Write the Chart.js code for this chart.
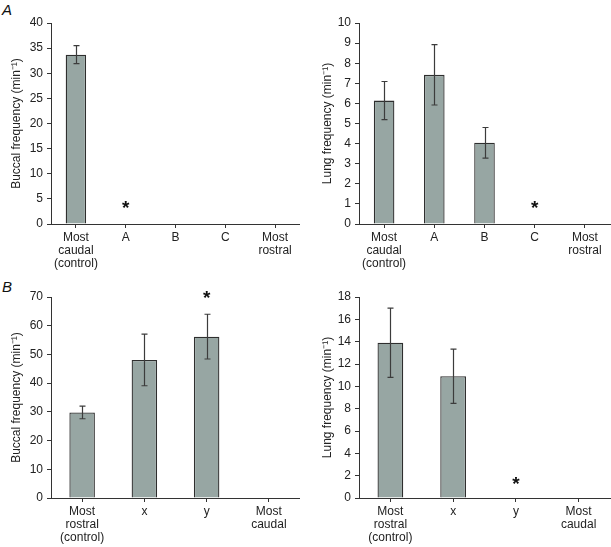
<!DOCTYPE html>
<html>
<head>
<meta charset="utf-8">
<script src="https://cdn.jsdelivr.net/npm/chart.js@4/dist/chart.umd.min.js"></script>
<style>
  body { margin: 0; background: #fff; width: 611px; height: 547px; position: relative; overflow: hidden; font-family: "Liberation Sans", Arial, sans-serif; }
  canvas { position: absolute; }
  .tag { position: absolute; font-style: italic; font-size: 15px; color: #111; line-height: 15px; }
</style>
</head>
<body>
<div class="tag" style="left:2px;top:2px">A</div>
<div class="tag" style="left:2px;top:279px">B</div>
<canvas id="buccalA" width="300" height="270" style="left:0;top:0"></canvas>
<canvas id="lungA" width="311" height="270" style="left:300px;top:0"></canvas>
<canvas id="buccalB" width="300" height="277" style="left:0;top:270px"></canvas>
<canvas id="lungB" width="311" height="277" style="left:300px;top:270px"></canvas>
<script>
// categories
const catsA = [['Most', 'caudal', '(control)'], 'A', 'B', 'C', ['Most', 'rostral']];
const catsB = [['Most', 'rostral', '(control)'], 'x', 'y', ['Most', 'caudal']];

// means and error (+/-) per category, null = no bar
const buccalA = [33.7, null, null, null, null];
const buccalAErr = [1.8, null, null, null, null];
const lungA = [6.14, 7.42, 4.04, null, null];
const lungAErr = [0.95, 1.5, 0.76, null, null];
const buccalB = [29.8, 48.1, 56.2, null];
const buccalBErr = [2.2, 9.0, 7.8, null];
const lungB = [13.9, 10.9, null, null];
const lungBErr = [3.1, 2.43, null, null];

// where the significance asterisks sit (value units)
const starBuccalA = [null, 3.8, null, null, null];
const starLungA = [null, null, null, 0.95, null];
const starBuccalB = [null, null, 70.7, null];
const starLungB = [null, null, 1.6, null];

Chart.defaults.font.family = '"Liberation Sans", Arial, sans-serif';
Chart.defaults.color = '#222';

const errBarPlugin = {
    id: 'errBars',
    afterDatasetsDraw(chart) {
        const opts = chart.options.plugins.errBars;
        const ctx = chart.ctx;
        const yScale = chart.scales.y;
        const xScale = chart.scales.x;
        const vals = chart.data.datasets[0].data;
        ctx.save();
        ctx.strokeStyle = '#3c3c3c';
        ctx.lineWidth = 1.2;
        opts.errors.forEach((e, i) => {
            if (e == null || vals[i] == null) return;
            const x = Math.round(xScale.getPixelForValue(i)) + 0.5;
            const top = yScale.getPixelForValue(vals[i] + e);
            const bot = yScale.getPixelForValue(vals[i] - e);
            ctx.beginPath();
            ctx.moveTo(x, top); ctx.lineTo(x, bot);
            ctx.moveTo(x - 3, top); ctx.lineTo(x + 3, top);
            ctx.moveTo(x - 3, bot); ctx.lineTo(x + 3, bot);
            ctx.stroke();
        });
        ctx.fillStyle = '#111';
        ctx.font = 'bold 19px "Liberation Sans", Arial, sans-serif';
        ctx.textAlign = 'center';
        ctx.textBaseline = 'alphabetic';
        opts.stars.forEach((s, i) => {
            if (s == null) return;
            const m = ctx.measureText('*');
            const x = xScale.getPixelForValue(i);
            const y = yScale.getPixelForValue(s);
            const off = (m.actualBoundingBoxAscent - m.actualBoundingBoxDescent) / 2;
            ctx.fillText('*', x, y + off);
        });
        ctx.restore();
    }
};

const makeChart = (id, cats, vals, errs, stars, yMax, yStep, yTitle, g) => {
    new Chart(document.getElementById(id), {
        type: 'bar',
        data: {
            labels: cats,
            datasets: [{
                data: vals,
                backgroundColor: '#97a6a3',
                borderColor: '#2e2e2e',
                borderWidth: 1.3,
                categoryPercentage: 1,
                barPercentage: 0.41
            }]
        },
        options: {
            responsive: false,
            animation: false,
            events: [],
            layout: { padding: { left: g.left, right: g.right, top: g.top, bottom: 0 } },
            plugins: {
                legend: { display: false },
                tooltip: { enabled: false },
                errBars: { errors: errs, stars: stars }
            },
            scales: {
                x: {
                    grid: { offset: false, drawOnChartArea: false, drawTicks: true, tickLength: 4, color: '#333' },
                    border: { color: '#333', width: 1 },
                    ticks: { font: { size: 12, lineHeight: 1.1 }, padding: 3, maxRotation: 0, autoSkip: false },
                    afterFit: (s) => { s.height = g.xh; }
                },
                y: {
                    min: 0,
                    max: yMax,
                    grid: { drawOnChartArea: false, drawTicks: true, tickLength: 4, color: '#333' },
                    border: { color: '#333', width: 1 },
                    ticks: { stepSize: yStep, font: { size: 12 }, padding: 4 },
                    title: { display: true, text: yTitle, font: { size: 12 }, padding: 0, color: '#222' },
                    afterFit: (s) => { s.width = g.yw; }
                }
            }
        },
        plugins: [errBarPlugin]
    });
};

(function() {
    makeChart('buccalA', catsA, buccalA, buccalAErr, starBuccalA, 40, 5, 'Buccal frequency (min\u207B\u00B9)',
        { left: 9, right: 0, top: 23, xh: 46, yw: 42 });
    makeChart('lungA', catsA, lungA, lungAErr, starLungA, 10, 1, 'Lung frequency (min\u207B\u00B9)',
        { left: 20, right: 1, top: 23, xh: 46, yw: 39 });
    makeChart('buccalB', catsB, buccalB, buccalBErr, starBuccalB, 70, 10, 'Buccal frequency (min\u207B\u00B9)',
        { left: 9, right: 0, top: 27, xh: 49, yw: 42 });
    makeChart('lungB', catsB, lungB, lungBErr, starLungB, 18, 2, 'Lung frequency (min\u207B\u00B9)',
        { left: 20, right: 1, top: 27, xh: 49, yw: 39 });
})();
</script>
</body>
</html>
